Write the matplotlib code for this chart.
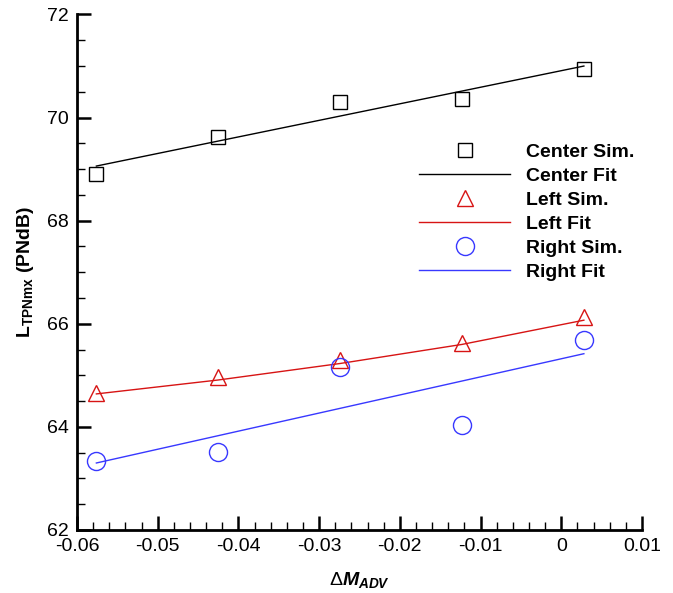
import matplotlib
matplotlib.use("Agg")
import matplotlib.pyplot as plt
from matplotlib.ticker import MultipleLocator

plt.rcParams['font.family'] = ['Liberation Sans', 'DejaVu Sans']
plt.rcParams['mathtext.fontset'] = 'custom'
plt.rcParams['mathtext.rm'] = 'Liberation Sans'
plt.rcParams['mathtext.it'] = 'Liberation Sans:italic:bold'
plt.rcParams['mathtext.bf'] = 'Liberation Sans:bold'

# data
dM = [-0.0576, -0.0425, -0.0274, -0.0123, 0.0028]
center_sim = [68.90, 69.62, 70.31, 70.37, 70.94]
left_sim = [64.66, 64.97, 65.30, 65.63, 66.14]
right_sim = [63.33, 63.51, 65.17, 64.04, 65.69]

fit_x_lin = [-0.0576, 0.0028]
center_fit = [69.06, 71.00]
right_fit = [63.30, 65.42]
fit_x_left = [-0.0576, -0.0425, -0.0274, -0.0123, 0.0028]
left_fit = [64.64, 64.91, 65.23, 65.60, 66.07]

RED = '#d71414'
BLUE = '#3838ff'

fig = plt.figure(figsize=(6.73, 5.93), dpi=100)
ax = fig.add_axes([77/673, 1-530/593, (642-77)/673, (530-14.5)/593])

ax.plot(dM, center_sim, ls='none', marker='s', ms=10, mfc='none', mec='black', mew=1.0, label='Center Sim.')
ax.plot(fit_x_lin, center_fit, color='black', lw=1.0, label='Center Fit')
ax.plot(dM, left_sim, ls='none', marker='^', ms=12, mfc='none', mec=RED, mew=1.0, label='Left Sim.')
ax.plot(fit_x_left, left_fit, color=RED, lw=1.0, label='Left Fit')
ax.plot(dM, right_sim, ls='none', marker='o', ms=13, mfc='none', mec=BLUE, mew=1.0, label='Right Sim.')
ax.plot(fit_x_lin, right_fit, color=BLUE, lw=1.0, label='Right Fit')

ax.set_xlim(-0.06, 0.01)
ax.set_ylim(62, 72)
ax.xaxis.set_minor_locator(MultipleLocator(0.002))
ax.yaxis.set_minor_locator(MultipleLocator(0.5))
ax.set_xticks([-0.06, -0.05, -0.04, -0.03, -0.02, -0.01, 0, 0.01])
ax.set_xticklabels(['-0.06', '-0.05', '-0.04', '-0.03', '-0.02', '-0.01', '0', '0.01'])
ax.set_yticks([62, 64, 66, 68, 70, 72])
ax.set_yticklabels(['62', '64', '66', '68', '70', '72'])

for s in ['top', 'right']:
    ax.spines[s].set_visible(False)
for s in ['left', 'bottom']:
    ax.spines[s].set_linewidth(2.0)
ax.tick_params(which='major', direction='in', length=10, width=1.8, labelsize=14, pad=6)
ax.tick_params(which='minor', direction='in', length=6, width=1.0)
ax.tick_params(top=False, right=False, which='both')

ax.set_xlabel(r'$\Delta\mathit{M}_{\mathit{ADV}}$', fontsize=14, labelpad=10.5)
ax.set_ylabel(r'$\mathbf{L_{TPNmx}\ (PNdB)}$', fontsize=14, labelpad=8)

leg = ax.legend(loc='upper left', bbox_to_anchor=(419/673, 1-143/593), bbox_transform=fig.transFigure,
                frameon=False, prop={'weight': 'bold', 'size': 14}, handlelength=4.7,
                handletextpad=0.8, labelspacing=0.33, borderpad=0, borderaxespad=0)

fig.savefig('out.png', dpi=100)
